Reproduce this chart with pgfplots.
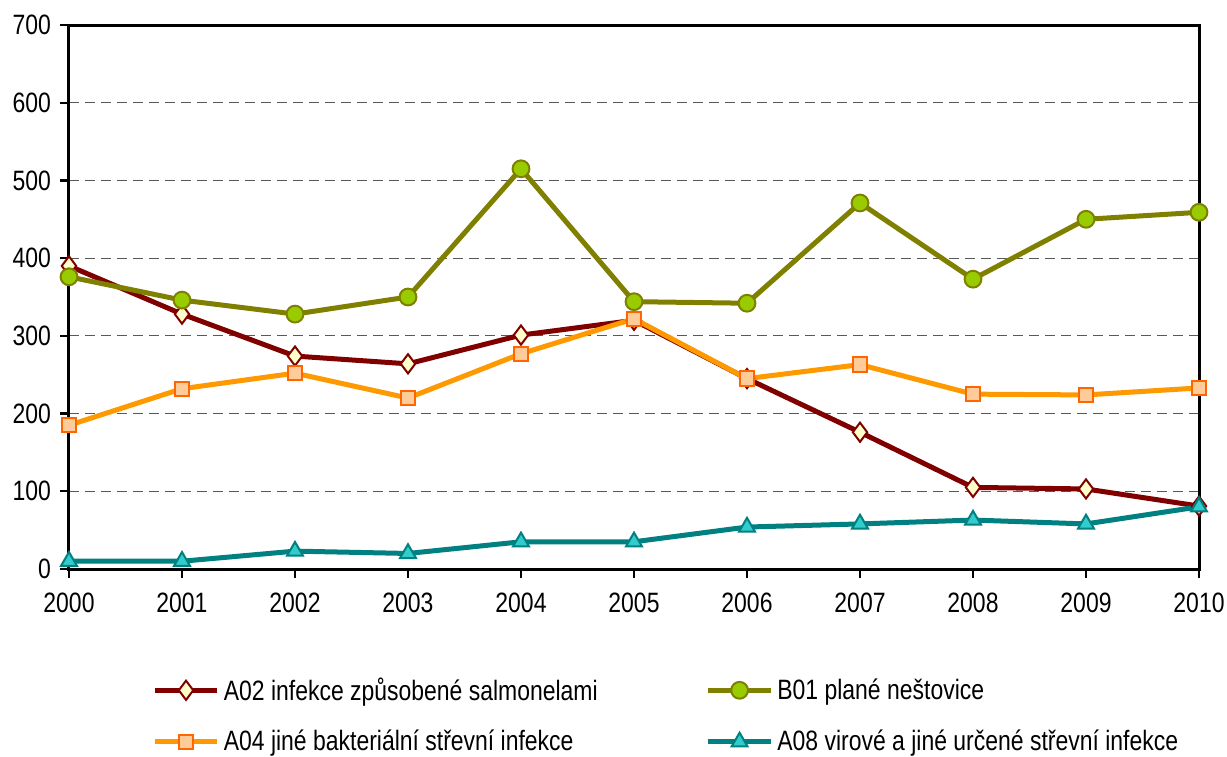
\documentclass[border=0pt]{standalone}
\usepackage{fontspec}
\setmainfont{Liberation Sans}[FakeStretch=0.82]
\usepackage{pgfplots}
\pgfplotsset{compat=1.18}

\definecolor{aLine}{HTML}{800000}
\definecolor{aFill}{HTML}{FFFFCC}
\definecolor{bLine}{HTML}{808000}
\definecolor{bFill}{HTML}{99CC00}
\definecolor{cLine}{HTML}{FF9900}
\definecolor{cFill}{HTML}{FFCC99}
\definecolor{cEdge}{HTML}{FF6600}
\definecolor{dLine}{HTML}{008080}
\definecolor{dFill}{HTML}{33CCCC}

\begin{document}
\begin{tikzpicture}[font=\fontsize{14}{16}\selectfont]
\begin{axis}[
    scale only axis,
    width=565pt, height=272pt,
    xmin=2000, xmax=2010, ymin=0, ymax=700,
    xtick={2000,2001,...,2010},
    ytick={0,100,...,700},
    /pgf/number format/1000 sep={},
    /pgf/number format/assume math mode=true,
    xticklabel style={yshift=-4pt},
    yticklabel style={xshift=-1pt},
    axis line style={line width=1.5pt},
    tick align=outside, tick pos=left,
    major tick length=4.5pt,
    tick style={line width=1.2pt, black},
    ymajorgrids,
    grid style={dash pattern=on 5pt off 3pt, black!65, line width=0.5pt},
    clip=false,
    legend columns=2,
    legend cell align=left,
    legend style={draw=none, at={(0.068,-0.184)}, anchor=north west,
        row sep=9.5pt,
        /tikz/every even column/.append style={column sep=52pt}},
    legend image code/.code={%
        \draw[mark repeat=2,mark phase=2] plot coordinates {(0cm,0cm) (0.55cm,0cm) (1.1cm,0cm)};},
    every axis plot/.append style={line width=2.5pt},
]
\addplot[aLine, mark=diamond*, mark size=4.8pt,
    mark options={fill=aFill, draw=aLine, line width=1pt}] coordinates {
    (2000,390) (2001,328) (2002,274) (2003,264) (2004,301) (2005,320)
    (2006,245) (2007,176) (2008,105) (2009,103) (2010,81)};
\addlegendentry{A02 infekce způsobené salmonelami}
\addplot[bLine, mark=*, mark size=4.2pt,
    mark options={fill=bFill, draw=bLine, line width=1pt}] coordinates {
    (2000,376) (2001,346) (2002,328) (2003,350) (2004,515) (2005,344)
    (2006,342) (2007,471) (2008,373) (2009,450) (2010,459)};
\addlegendentry{B01 plané neštovice}
\addplot[cLine, mark=square*, mark size=3.6pt,
    mark options={fill=cFill, draw=cEdge, line width=1pt}] coordinates {
    (2000,185) (2001,232) (2002,252) (2003,220) (2004,277) (2005,322)
    (2006,245) (2007,263) (2008,225) (2009,224) (2010,233)};
\addlegendentry{A04 jiné bakteriální střevní infekce}
\addplot[dLine, mark=triangle*, mark size=4.6pt,
    mark options={fill=dFill, draw=dLine, line width=1pt}] coordinates {
    (2000,10) (2001,10) (2002,23) (2003,20) (2004,35) (2005,35)
    (2006,54) (2007,58) (2008,63) (2009,58) (2010,80)};
\addlegendentry{A08 virové a jiné určené střevní infekce}
\end{axis}
\pgfresetboundingbox
\path (-34.5pt,-93.5pt) rectangle (579pt,284.5pt);
\end{tikzpicture}
\end{document}
